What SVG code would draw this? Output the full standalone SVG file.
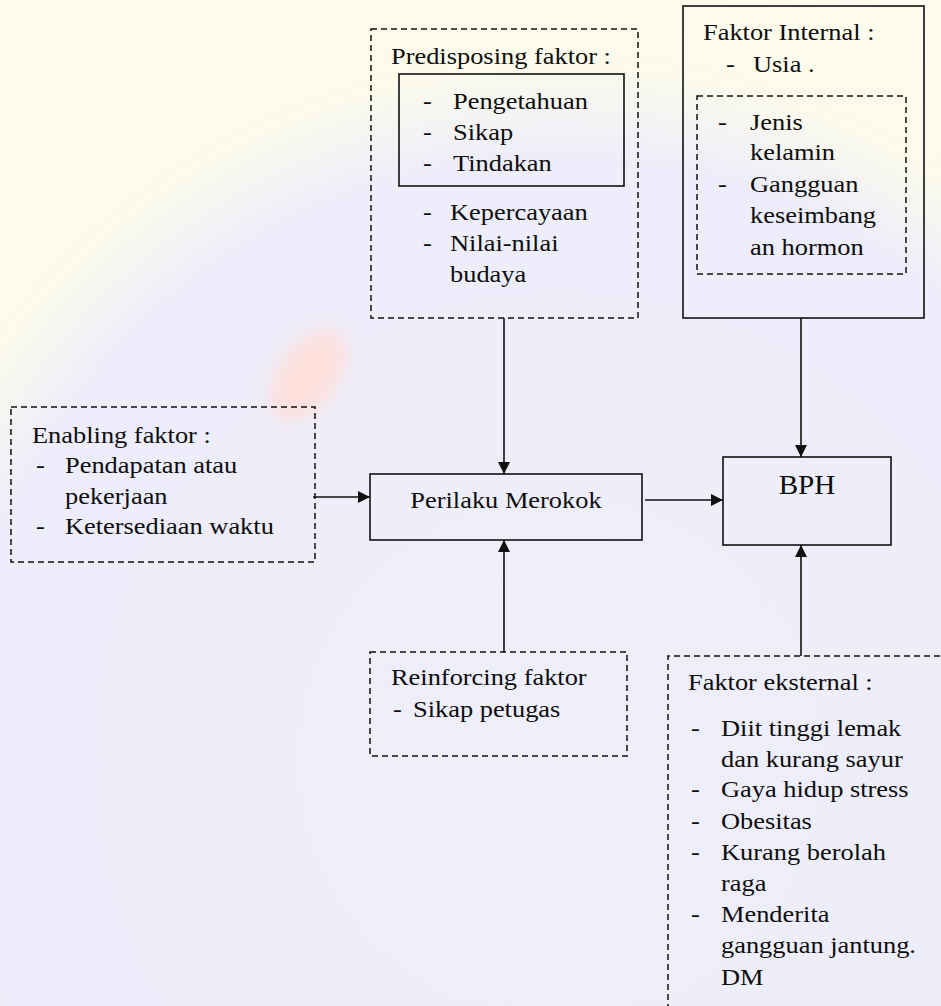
<svg xmlns="http://www.w3.org/2000/svg" width="941" height="1006" viewBox="0 0 941 1006">
<style>
.t{font-family:"Liberation Serif","Times New Roman",serif;font-size:24px;fill:#0d0d0d}
.big{font-size:27px}
.solid{fill:none;stroke:#111;stroke-width:1.6}
.dash{fill:none;stroke:#111;stroke-width:1.5;stroke-dasharray:6 4}
.conn{fill:none;stroke:#111;stroke-width:1.6}
</style>
<defs>
<radialGradient id="bg" gradientUnits="userSpaceOnUse" cx="560" cy="760" r="1000">
<stop offset="0" stop-color="#efeffb"/>
<stop offset="0.6" stop-color="#ededfb"/>
<stop offset="0.7" stop-color="#fcfbeb"/>
<stop offset="1" stop-color="#fffdf0"/>
</radialGradient>
<filter id="blur" x="-50%" y="-50%" width="200%" height="200%"><feGaussianBlur stdDeviation="9"/></filter>
<marker id="arr" viewBox="0 0 12 12" markerWidth="12" markerHeight="12" refX="12" refY="6" orient="auto" markerUnits="userSpaceOnUse">
<path d="M0,0 L12,6 L0,12 z" fill="#111"/>
</marker>
</defs>
<g id="background">
<rect x="0" y="0" width="941" height="1006" fill="url(#bg)"/>
<ellipse cx="308" cy="375" rx="30" ry="52" transform="rotate(35 308 375)" fill="#fde0dc" filter="url(#blur)"/>
</g>

<g id="predisposing">
<rect class="dash" x="371" y="29" width="267" height="289"/>
<text class="t" transform="translate(391 64) scale(1.1 1)">Predisposing faktor :</text>
<rect class="solid" x="399" y="74" width="225" height="112"/>
<text class="t" transform="translate(423 109) scale(1.1 1)">-</text>
<text class="t" transform="translate(453 109) scale(1.1 1)">Pengetahuan</text>
<text class="t" transform="translate(423 140) scale(1.1 1)">-</text>
<text class="t" transform="translate(453 140) scale(1.1 1)">Sikap</text>
<text class="t" transform="translate(423 171) scale(1.1 1)">-</text>
<text class="t" transform="translate(453 171) scale(1.1 1)">Tindakan</text>
<text class="t" transform="translate(423 220) scale(1.1 1)">-</text>
<text class="t" transform="translate(450 220) scale(1.1 1)">Kepercayaan</text>
<text class="t" transform="translate(423 251) scale(1.1 1)">-</text>
<text class="t" transform="translate(450 251) scale(1.1 1)">Nilai-nilai</text>
<text class="t" transform="translate(450 282) scale(1.1 1)">budaya</text>
</g>

<g id="internal">
<rect class="solid" x="683" y="6" width="241" height="312"/>
<text class="t" transform="translate(703 40) scale(1.1 1)">Faktor Internal :</text>
<text class="t" transform="translate(726 72) scale(1.1 1)">-</text>
<text class="t" transform="translate(753 72) scale(1.1 1)">Usia .</text>
<rect class="dash" x="697" y="96" width="209" height="178"/>
<text class="t" transform="translate(718 130) scale(1.1 1)">-</text>
<text class="t" transform="translate(750 130) scale(1.1 1)">Jenis</text>
<text class="t" transform="translate(750 160) scale(1.1 1)">kelamin</text>
<text class="t" transform="translate(718 192) scale(1.1 1)">-</text>
<text class="t" transform="translate(750 192) scale(1.1 1)">Gangguan</text>
<text class="t" transform="translate(750 223) scale(1.1 1)">keseimbang</text>
<text class="t" transform="translate(750 255) scale(1.1 1)">an hormon</text>
</g>

<g id="enabling">
<rect class="dash" x="11" y="407" width="304" height="155"/>
<text class="t" transform="translate(32 443) scale(1.1 1)">Enabling faktor :</text>
<text class="t" transform="translate(36 473) scale(1.1 1)">-</text>
<text class="t" transform="translate(65 473) scale(1.1 1)">Pendapatan atau</text>
<text class="t" transform="translate(65 504) scale(1.1 1)">pekerjaan</text>
<text class="t" transform="translate(36 534) scale(1.1 1)">-</text>
<text class="t" transform="translate(65 534) scale(1.1 1)">Ketersediaan waktu</text>
</g>

<g id="perilaku">
<rect class="solid" x="370" y="474" width="272" height="66"/>
<text class="t" text-anchor="middle" transform="translate(506 508) scale(1.1 1)">Perilaku Merokok</text>
</g>

<g id="bph">
<rect class="solid" x="723" y="457" width="168" height="88"/>
<text class="t big" text-anchor="middle" transform="translate(807 494) scale(1.08 1)">BPH</text>
</g>

<g id="reinforcing">
<rect class="dash" x="370" y="652" width="257" height="104"/>
<text class="t" transform="translate(391 685) scale(1.1 1)">Reinforcing faktor</text>
<text class="t" transform="translate(393 717) scale(1.1 1)">-</text>
<text class="t" transform="translate(413 717) scale(1.1 1)">Sikap petugas</text>
</g>

<g id="eksternal">
<path class="dash" d="M668,1010 V656 H945"/>
<text class="t" transform="translate(688 690) scale(1.1 1)">Faktor eksternal :</text>
<text class="t" transform="translate(691 736) scale(1.1 1)">-</text>
<text class="t" transform="translate(721 736) scale(1.1 1)">Diit tinggi lemak</text>
<text class="t" transform="translate(721 767) scale(1.1 1)">dan kurang sayur</text>
<text class="t" transform="translate(691 797) scale(1.1 1)">-</text>
<text class="t" transform="translate(721 797) scale(1.1 1)">Gaya hidup stress</text>
<text class="t" transform="translate(691 829) scale(1.1 1)">-</text>
<text class="t" transform="translate(721 829) scale(1.1 1)">Obesitas</text>
<text class="t" transform="translate(691 860) scale(1.1 1)">-</text>
<text class="t" transform="translate(721 860) scale(1.1 1)">Kurang berolah</text>
<text class="t" transform="translate(721 891) scale(1.1 1)">raga</text>
<text class="t" transform="translate(691 922) scale(1.1 1)">-</text>
<text class="t" transform="translate(721 922) scale(1.1 1)">Menderita</text>
<text class="t" transform="translate(721 953) scale(1.1 1)">gangguan jantung.</text>
<text class="t" transform="translate(721 985) scale(1.1 1)">DM</text>
</g>

<g id="connectors">
<line class="conn" x1="504" y1="318" x2="504" y2="474" marker-end="url(#arr)"/>
<line class="conn" x1="801" y1="318" x2="801" y2="457" marker-end="url(#arr)"/>
<line class="conn" x1="313" y1="497" x2="370" y2="497" marker-end="url(#arr)"/>
<line class="conn" x1="645" y1="500" x2="723" y2="500" marker-end="url(#arr)"/>
<line class="conn" x1="504" y1="652" x2="504" y2="540" marker-end="url(#arr)"/>
<line class="conn" x1="801" y1="656" x2="801" y2="545" marker-end="url(#arr)"/>
</g>
</svg>
